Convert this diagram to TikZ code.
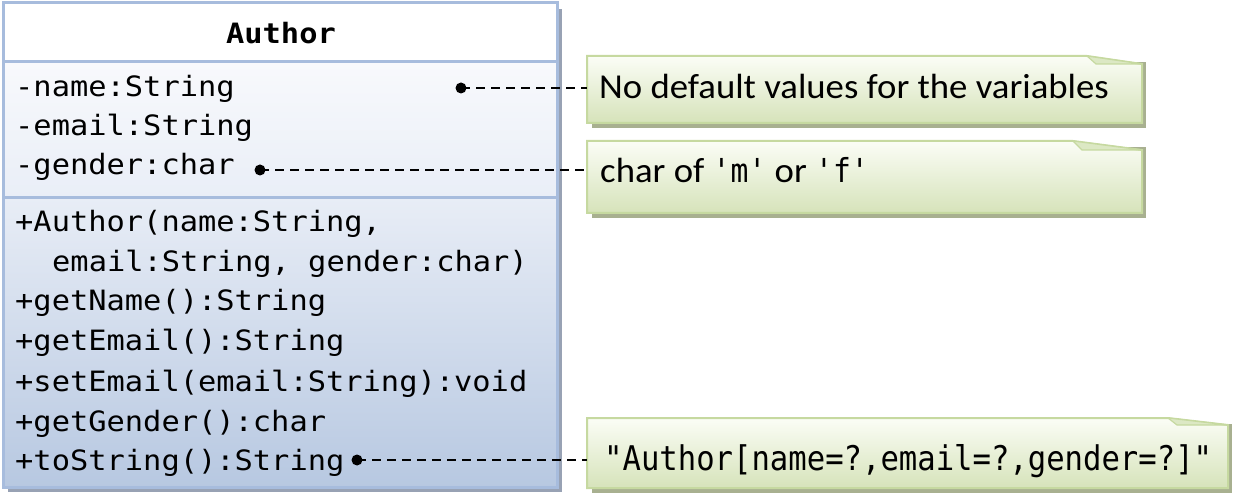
\documentclass[tikz,border=0pt]{standalone}
\usepackage{fontspec}
\setmainfont{Carlito}[FakeStretch=1.05]
\newfontfamily\cons{DejaVu Sans Mono}[FakeStretch=1.085]
\newfontfamily\consnote{DejaVu Sans Mono}[FakeStretch=0.90]
\usetikzlibrary{calc}
\definecolor{boxborder}{HTML}{A7BCDD}
\definecolor{attrtop}{HTML}{F8F9FC}
\definecolor{attrbot}{HTML}{E9EEF7}
\definecolor{methtop}{HTML}{E8EDF6}
\definecolor{methbot}{HTML}{B7C8E1}
\definecolor{boxshadow}{HTML}{98A2B4}
\definecolor{notetop}{HTML}{FBFDF6}
\definecolor{notebot}{HTML}{D6E3BA}
\definecolor{noteborder}{HTML}{C6D9A0}
\definecolor{noteshadow}{HTML}{A8B090}
\definecolor{foldc}{HTML}{DCE8C4}
\newcommand\notepaper[3]{%
  \fill[noteshadow] ($(#1.north west)+(5,6)$) rectangle ($(#1.south east)+(4,5)$);
  \path[draw=noteborder, line width=2, top color=notetop, bottom color=notebot]
    (#1.north west) -- ($(#1.north east)+(-#2,0)$) -- ($(#1.north east)+(0,#3)$)
    -- (#1.south east) -- (#1.south west) -- cycle;
  \filldraw[draw=noteborder, fill=foldc, line width=1.2]
    ($(#1.north east)+(-#2,0)$) -- ($(#1.north east)+(-#2+9,#3)$) -- ($(#1.north east)+(0,#3)$) -- cycle;
}
\begin{document}
\begin{tikzpicture}[x=1pt,y=-1pt,
  part/.style={draw=boxborder, line width=3, anchor=north west, minimum width=554, inner sep=0, outer sep=0},
  mono/.style={font=\cons\fontsize{28}{34}\selectfont, anchor=base west, inner sep=0},
  title/.style={font=\cons\bfseries\fontsize{28}{34}\selectfont, anchor=base, inner sep=0},
  notebox/.style={anchor=north west, inner sep=0, outer sep=0},
  notetext/.style={font=\fontsize{35}{40}\selectfont, anchor=base west, inner sep=0},
  dot/.style={circle, fill=black, minimum size=11, inner sep=0},
  conn/.style={line width=2.5, dash pattern=on 9 off 6}]
\useasboundingbox (0,0) rectangle (1236,502);
% class box
\fill[boxshadow] (8,9) rectangle (562,492);
\node[part, fill=white, minimum height=59] (hdr) at (3,3) {};
\node[part, top color=attrtop, bottom color=attrbot, minimum height=136] (attr) at (3,62) {};
\node[part, top color=methtop, bottom color=methbot, minimum height=289] (meth) at (3,198) {};
\node[title] (ttl) at (281,44) {Author};
\node[mono] (a1) at (15,97) {-name:String};
\node[mono] (a2) at (15,136) {-email:String};
\node[mono] (a3) at (15,175) {-gender:char};
\node[mono] (m1) at (15,232) {+Author(name:String,};
\node[mono] (m2) at (52,272) {email:String, gender:char)};
\node[mono] (m3) at (15,311) {+getName():String};
\node[mono] (m4) at (15,351) {+getEmail():String};
\node[mono] (m5) at (15,391) {+setEmail(email:String):void};
\node[mono] (m6) at (15,431) {+getGender():char};
\node[mono] (m7) at (15,470) {+toString():String};
% notes
\node[notebox, minimum width=555, minimum height=67] (n1) at (587,56) {};
\node[notebox, minimum width=555, minimum height=72] (n2) at (587,141) {};
\node[notebox, minimum width=641, minimum height=70] (n3) at (587,418) {};
\notepaper{n1}{55}{8}
\notepaper{n2}{69}{9}
\notepaper{n3}{60}{7}
\node[notetext] (t1) at (599,99) {No default values for the variables};
\node[notetext] (t2) at (600,183) {char of {\consnote\fontsize{33}{38}\selectfont 'm'} or {\consnote\fontsize{33}{38}\selectfont 'f'}};
\node[font=\consnote\fontsize{34}{40}\selectfont, anchor=base west, inner sep=0] (t3) at (604,470) {"Author[name=?,email=?,gender=?]"};
% connectors
\node[dot] (d1) at (461,88) {};
\node[dot] (d2) at (260,170) {};
\node[dot] (d3) at (357,460) {};
\draw[conn] (d1.center) -- (n1.west |- d1);
\draw[conn] (d2.center) -- (n2.west |- d2);
\draw[conn] (d3.center) -- (n3.west |- d3);
\end{tikzpicture}
\end{document}
